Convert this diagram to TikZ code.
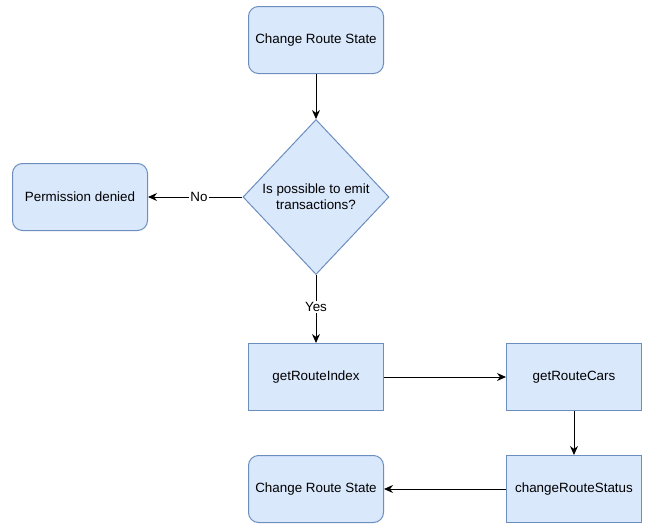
\documentclass[tikz,border=0pt]{standalone}
\usepackage{fontspec}
\setmainfont{Liberation Sans}
\usetikzlibrary{shapes.geometric,arrows.meta}
\definecolor{boxfill}{HTML}{DAE8FC}
\definecolor{boxline}{HTML}{6C8EBF}

\begin{document}
\begin{tikzpicture}
  [x=1pt,y=-1pt,
   every node/.style={font=\fontsize{13.4}{16}\selectfont},
   stepbox/.style={draw=boxline,fill=boxfill,line width=1pt,minimum width=135pt,minimum height=67pt,inner sep=0pt},
   roundbox/.style={stepbox,rounded corners=10pt},
   choice/.style={diamond,draw=boxline,fill=boxfill,line width=1pt,minimum width=146pt,minimum height=155pt,inner sep=0pt,align=center},
   arr/.style={-{Stealth[length=9pt,width=8pt]},line width=1pt},
   lbl/.style={fill=white,inner sep=1pt}]
  \useasboundingbox (0,0) rectangle (649,523);
  \node[roundbox] (start)  at (316,40)  {Change Route State};
  \node[choice]   (emit)   at (316,197) {Is possible to emit\\transactions?};
  \node[roundbox] (denied) at (80,197)  {Permission denied};
  \node[stepbox]  (index)  at (316,377) {getRouteIndex};
  \node[stepbox]  (cars)   at (574,377) {getRouteCars};
  \node[stepbox]  (status) at (574,489) {changeRouteStatus};
  \node[roundbox] (finish) at (316,489) {Change Route State};

  \draw[arr] (start) -- (emit);
  \draw[arr] (emit) -- node[lbl,pos=0.46] {No} (denied);
  \draw[arr] (emit) -- node[lbl,pos=0.47] {Yes} (index);
  \draw[arr] (index) -- (cars);
  \draw[arr] (cars) -- (status);
  \draw[arr] (status) -- (finish);
\end{tikzpicture}
\end{document}
